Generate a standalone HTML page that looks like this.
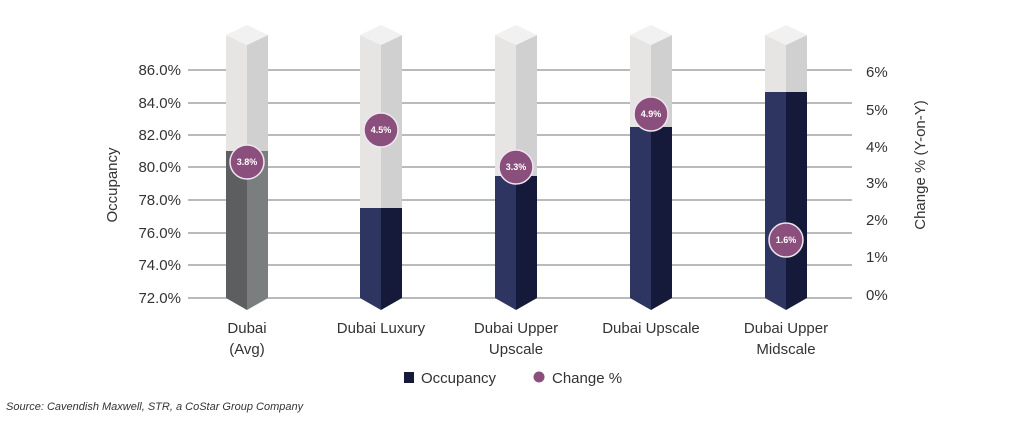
<!DOCTYPE html>
<html><head><meta charset="utf-8"><style>
body{margin:0;background:#fff;width:1024px;height:417px;overflow:hidden}
text{font-family:"Liberation Sans",sans-serif;fill:#333}
</style></head><body>
<svg width="1024" height="417" viewBox="0 0 1024 417" xmlns="http://www.w3.org/2000/svg">
<g stroke="#a3a3a3" stroke-width="1.5">
<line x1="188" x2="852" y1="70" y2="70"/><line x1="188" x2="852" y1="103" y2="103"/>
<line x1="188" x2="852" y1="135" y2="135"/><line x1="188" x2="852" y1="167" y2="167"/>
<line x1="188" x2="852" y1="200" y2="200"/><line x1="188" x2="852" y1="233" y2="233"/>
<line x1="188" x2="852" y1="265" y2="265"/><line x1="188" x2="852" y1="298" y2="298"/>
</g>
<g font-size="15" text-anchor="end">
<text x="181" y="75">86.0%</text><text x="181" y="108">84.0%</text><text x="181" y="140">82.0%</text>
<text x="181" y="172">80.0%</text><text x="181" y="205">78.0%</text><text x="181" y="238">76.0%</text>
<text x="181" y="270">74.0%</text><text x="181" y="303">72.0%</text>
</g>
<g font-size="15">
<text x="866" y="77">6%</text><text x="866" y="115">5%</text><text x="866" y="152">4%</text>
<text x="866" y="188">3%</text><text x="866" y="225">2%</text><text x="866" y="262">1%</text>
<text x="866" y="300">0%</text>
</g>
<text font-size="15" transform="translate(117,185) rotate(-90)" text-anchor="middle">Occupancy</text>
<text font-size="15" transform="translate(925,165) rotate(-90)" text-anchor="middle">Change % (Y-on-Y)</text>
<defs>
<g id="cap">
<polygon points="-21,35 0,45 0,310 -21,298" fill="#e6e5e4"/>
<polygon points="0,45 21,35 21,298 0,310" fill="#d0d0d0"/>
<polygon points="0,25 21,35 0,45 -21,35" fill="#f1f1f1"/>
</g>
</defs>
<g transform="translate(247,0)"><use href="#cap"/>
<polygon points="-21,151 0,151 0,310 -21,298" fill="#5c5e5f"/><polygon points="0,151 21,151 21,298 0,310" fill="#7b7e7e"/></g>
<g transform="translate(381,0)"><use href="#cap"/>
<polygon points="-21,208 0,208 0,310 -21,298" fill="#2e3560"/><polygon points="0,208 21,208 21,298 0,310" fill="#151a3b"/></g>
<g transform="translate(516,0)"><use href="#cap"/>
<polygon points="-21,176 0,176 0,310 -21,298" fill="#2e3560"/><polygon points="0,176 21,176 21,298 0,310" fill="#151a3b"/></g>
<g transform="translate(651,0)"><use href="#cap"/>
<polygon points="-21,127 0,127 0,310 -21,298" fill="#2e3560"/><polygon points="0,127 21,127 21,298 0,310" fill="#151a3b"/></g>
<g transform="translate(786,0)"><use href="#cap"/>
<polygon points="-21,92 0,92 0,310 -21,298" fill="#2e3560"/><polygon points="0,92 21,92 21,298 0,310" fill="#151a3b"/></g>
<g fill="#8a4f7d" stroke="#f0e6ee" stroke-width="1.5">
<circle cx="247" cy="162" r="17"/><circle cx="381" cy="130" r="17"/><circle cx="516" cy="167" r="17"/>
<circle cx="651" cy="114" r="17"/><circle cx="786" cy="240" r="17"/>
</g>
<g font-size="9" font-weight="bold" text-anchor="middle">
<text x="247" y="165" style="fill:#fff">3.8%</text><text x="381" y="133" style="fill:#fff">4.5%</text>
<text x="516" y="170" style="fill:#fff">3.3%</text><text x="651" y="117" style="fill:#fff">4.9%</text>
<text x="786" y="243" style="fill:#fff">1.6%</text>
</g>
<g font-size="15" text-anchor="middle">
<text x="247" y="333">Dubai</text><text x="247" y="354">(Avg)</text>
<text x="381" y="333">Dubai Luxury</text>
<text x="516" y="333">Dubai Upper</text><text x="516" y="354">Upscale</text>
<text x="651" y="333">Dubai Upscale</text>
<text x="786" y="333">Dubai Upper</text><text x="786" y="354">Midscale</text>
</g>
<rect x="404" y="372" width="10" height="11" fill="#151a3b"/>
<text x="421" y="383" font-size="15">Occupancy</text>
<circle cx="539" cy="377" r="5.5" fill="#8a4f7d"/>
<text x="552" y="383" font-size="15">Change %</text>
<text x="6" y="410" font-size="11" font-style="italic">Source: Cavendish Maxwell, STR, a CoStar Group Company</text>
</svg>
</body></html>
